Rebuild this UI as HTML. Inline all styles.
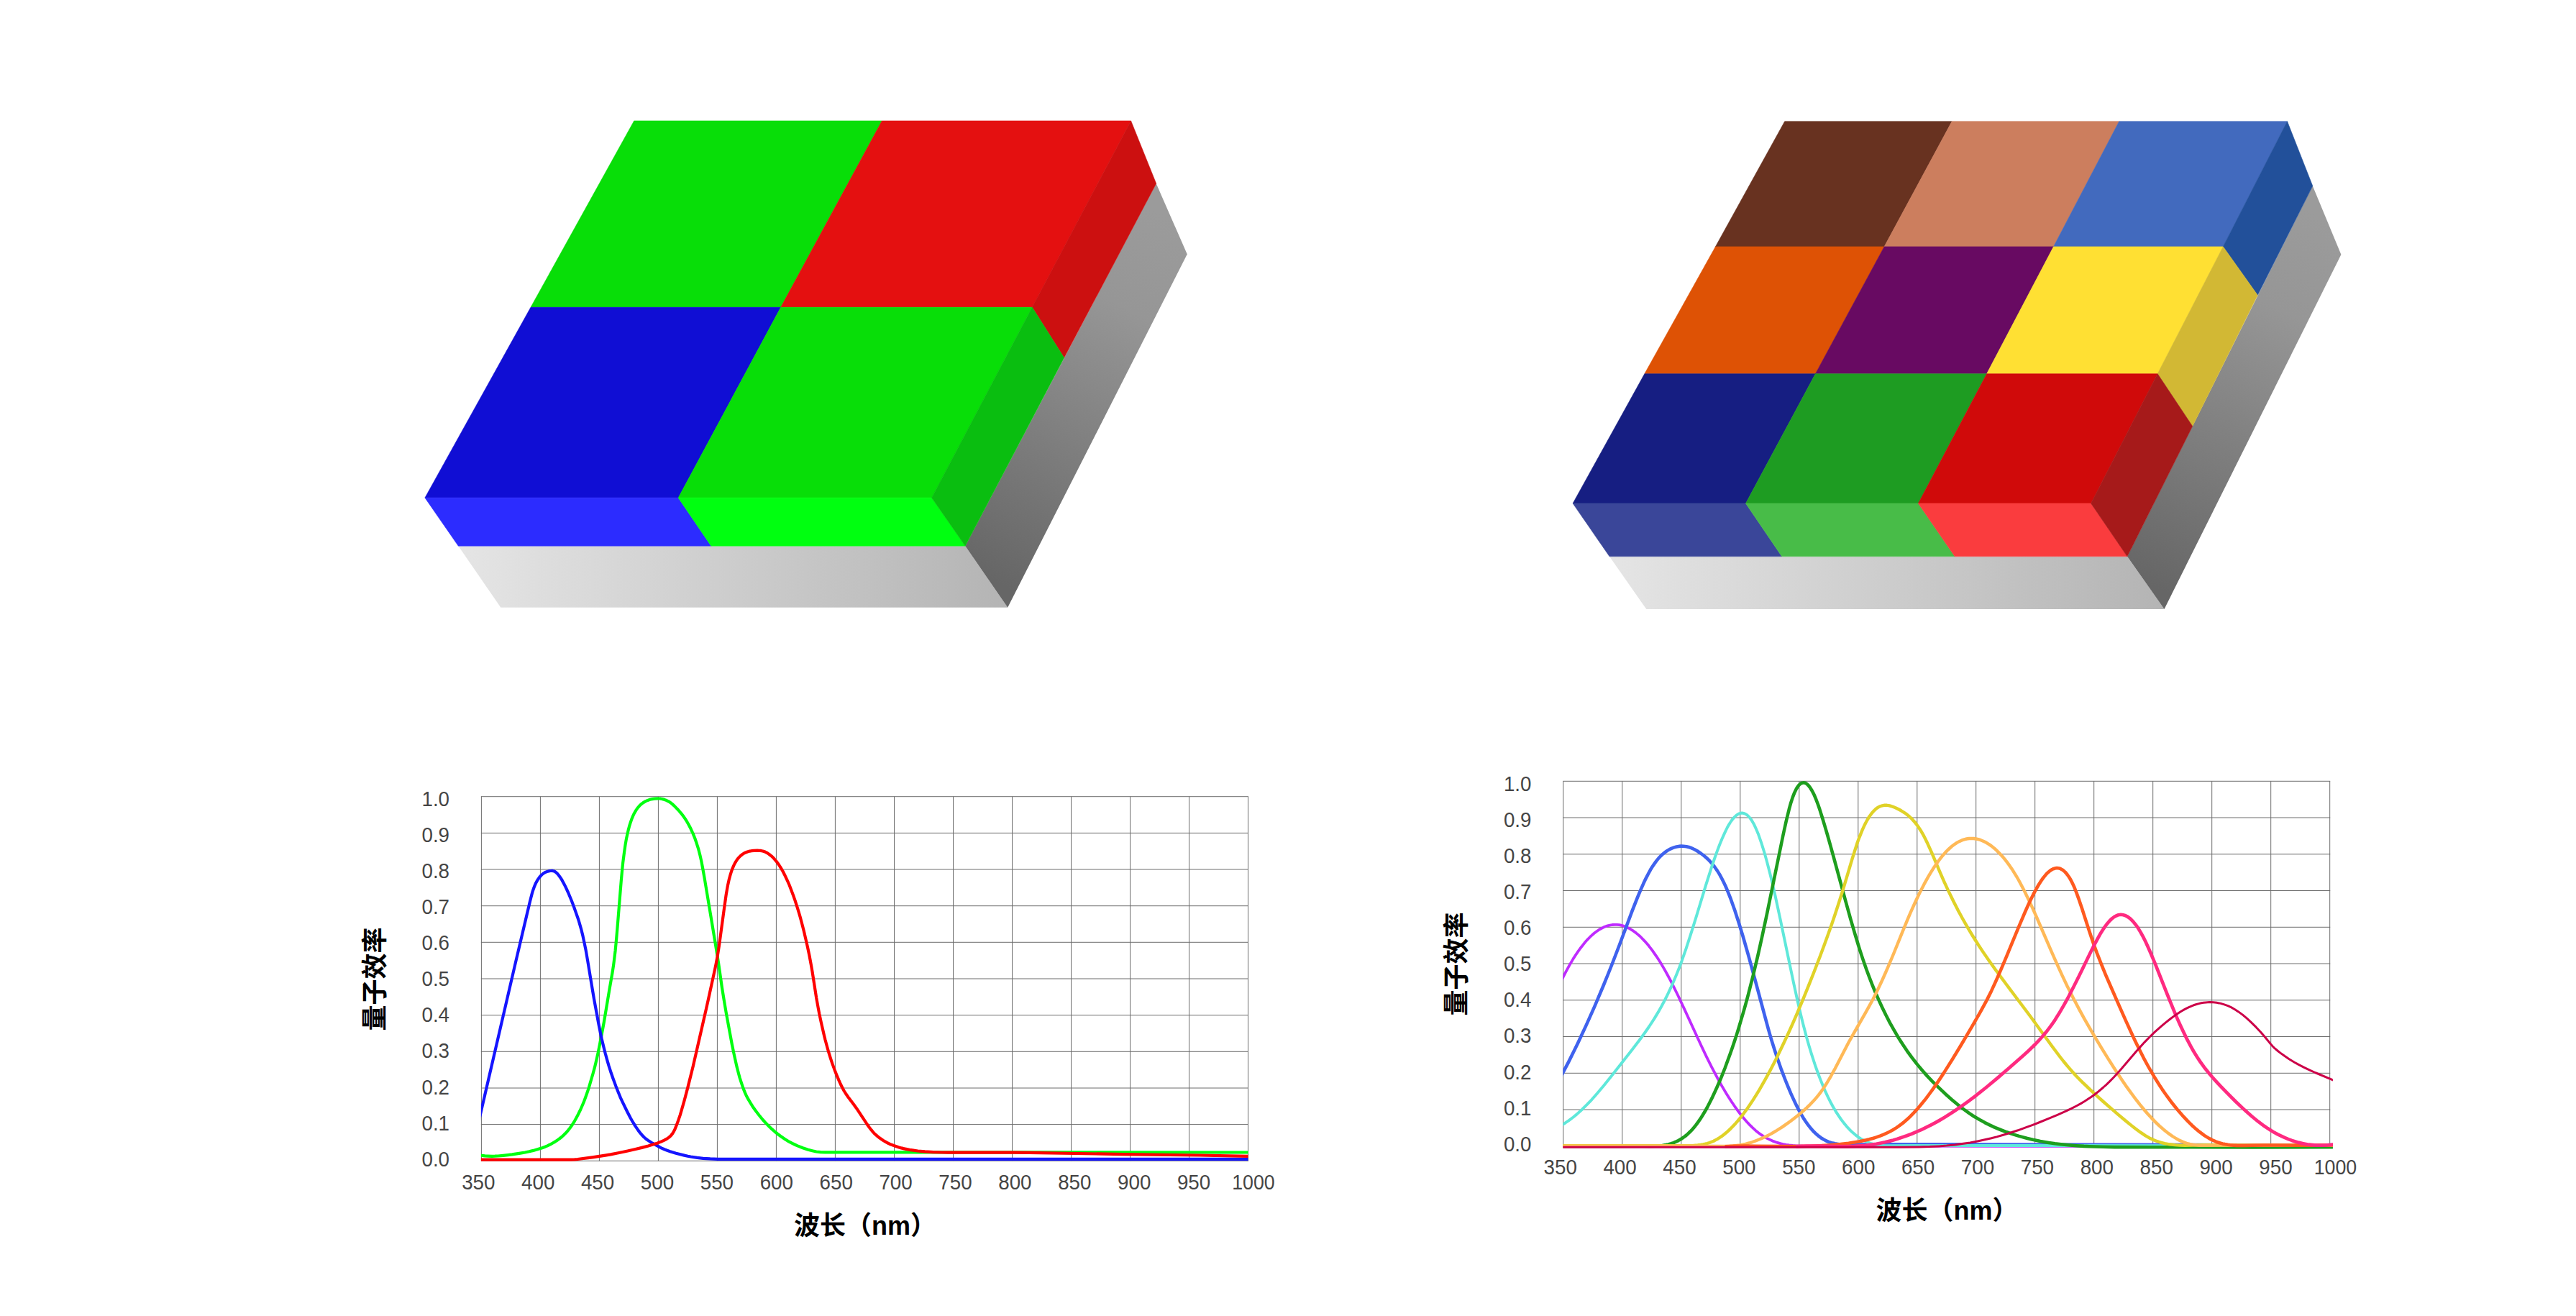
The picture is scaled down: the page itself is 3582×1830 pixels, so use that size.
<!DOCTYPE html>
<html lang="zh-CN">
<head>
<meta charset="utf-8">
<title>量子效率</title>
<style>
html,body{margin:0;padding:0;background:#fff;}
body{width:3582px;height:1830px;overflow:hidden;}
svg{display:block;}
.tick{font-family:"Liberation Sans",sans-serif;font-size:29px;fill:#454545;}
.ttl{font-family:"Liberation Sans","Noto Sans CJK SC",sans-serif;font-weight:bold;font-size:36px;fill:#000;}
.grid line{stroke:#6C6C6C;stroke-width:1;}
.crv path{fill:none;stroke-linejoin:round;stroke-linecap:butt;}
</style>
</head>
<body>
<svg xmlns="http://www.w3.org/2000/svg" width="3582" height="1830" viewBox="0 0 3582 1830">
<defs>
<linearGradient id="gf" x1="0" y1="0" x2="1" y2="0"><stop offset="0" stop-color="#E5E5E5"/><stop offset="1" stop-color="#B4B4B4"/></linearGradient>
<linearGradient id="gs1" gradientUnits="userSpaceOnUse" x1="1629" y1="304" x2="1372" y2="802"><stop offset="0" stop-color="#9B9B9B"/><stop offset="0.25" stop-color="#969696"/><stop offset="1" stop-color="#666666"/></linearGradient>
<linearGradient id="gs2" gradientUnits="userSpaceOnUse" x1="3235" y1="306" x2="2984" y2="810"><stop offset="0" stop-color="#9B9B9B"/><stop offset="0.25" stop-color="#969696"/><stop offset="1" stop-color="#666666"/></linearGradient>
</defs>
<g id="block1">
<polygon points="637.3,759.2 1342.2,759.2 1401.2,844.8 696.3,844.8" fill="url(#gf)"/>
<polygon points="1342.2,759.2 1607.7,255.2 1650.8,353.6 1401.2,844.8" fill="url(#gs1)"/>
<polygon points="881.7,168 1226.4,168 1085.7,427.3 738,427.3" fill="#08DE08" stroke="#08DE08" stroke-width="0.6"/>
<polygon points="1226.4,168 1572.6,168 1435.3,427.3 1085.7,427.3" fill="#E41010" stroke="#E41010" stroke-width="0.6"/>
<polygon points="738,427.3 1085.7,427.3 943.2,692.2 590.9,692.2" fill="#100ED4" stroke="#100ED4" stroke-width="0.6"/>
<polygon points="1085.7,427.3 1435.3,427.3 1295.6,692.2 943.2,692.2" fill="#08DE08" stroke="#08DE08" stroke-width="0.6"/>
<polygon points="590.9,692.2 943.2,692.2 988.8,759.2 637.3,759.2" fill="#2C2CFF" stroke="#2C2CFF" stroke-width="0.6"/>
<polygon points="943.2,692.2 1295.6,692.2 1342.2,759.2 988.8,759.2" fill="#00FF10" stroke="#00FF10" stroke-width="0.6"/>
<polygon points="1572.6,168 1607.7,255.2 1479.7,497.5 1435.3,427.3" fill="#CC1010" stroke="#CC1010" stroke-width="0.6"/>
<polygon points="1435.3,427.3 1479.7,497.5 1342.2,759.2 1295.6,692.2" fill="#0ABE10" stroke="#0ABE10" stroke-width="0.6"/>
</g>
<g id="block2">
<polygon points="2238,773.8 2958,773.8 3009.5,847 2289.3,847" fill="url(#gf)"/>
<polygon points="2958,773.8 3215.8,258.6 3255.4,354.1 3009.5,847" fill="url(#gs2)"/>
<polygon points="2481.7,168.8 2714.2,168.8 2620.1,343 2385.4,343" fill="#683220" stroke="#683220" stroke-width="0.6"/>
<polygon points="2714.2,168.8 2946.7,168.8 2855.5,343 2620.1,343" fill="#CC7E5E" stroke="#CC7E5E" stroke-width="0.6"/>
<polygon points="2946.7,168.8 3180.5,168.8 3091.3,343 2855.5,343" fill="#426ABE" stroke="#426ABE" stroke-width="0.6"/>
<polygon points="2385.4,343 2620.1,343 2524.4,519.8 2286.8,519.8" fill="#DE5205" stroke="#DE5205" stroke-width="0.6"/>
<polygon points="2620.1,343 2855.5,343 2762.6,519.8 2524.4,519.8" fill="#680A62" stroke="#680A62" stroke-width="0.6"/>
<polygon points="2855.5,343 3091.3,343 3000.2,519.8 2762.6,519.8" fill="#FFE033" stroke="#FFE033" stroke-width="0.6"/>
<polygon points="2286.8,519.8 2524.4,519.8 2427.5,700 2187.1,700" fill="#161E82" stroke="#161E82" stroke-width="0.6"/>
<polygon points="2524.4,519.8 2762.6,519.8 2667.4,700 2427.5,700" fill="#1E9C22" stroke="#1E9C22" stroke-width="0.6"/>
<polygon points="2762.6,519.8 3000.2,519.8 2907.6,700 2667.4,700" fill="#D00A0A" stroke="#D00A0A" stroke-width="0.6"/>
<polygon points="2187.1,700 2427.5,700 2477.7,773.8 2238,773.8" fill="#3A4699" stroke="#3A4699" stroke-width="0.6"/>
<polygon points="2427.5,700 2667.4,700 2718.2,773.8 2477.7,773.8" fill="#48BC48" stroke="#48BC48" stroke-width="0.6"/>
<polygon points="2667.4,700 2907.6,700 2958,773.8 2718.2,773.8" fill="#FA3C3E" stroke="#FA3C3E" stroke-width="0.6"/>
<polygon points="3180.5,168.8 3215.8,258.6 3139.3,410.4 3091.3,343" fill="#22509A" stroke="#22509A" stroke-width="0.6"/>
<polygon points="3091.3,343 3139.3,410.4 3048.7,592.7 3000.2,519.8" fill="#D2B834" stroke="#D2B834" stroke-width="0.6"/>
<polygon points="3000.2,519.8 3048.7,592.7 2958,773.8 2907.6,700" fill="#A61A1A" stroke="#A61A1A" stroke-width="0.6"/>
</g>
<g id="chart1">
<g class="grid">
<line x1="669.4" y1="1107.7" x2="669.4" y2="1614.3"/><line x1="751.4" y1="1107.7" x2="751.4" y2="1614.3"/><line x1="833.4" y1="1107.7" x2="833.4" y2="1614.3"/><line x1="915.4" y1="1107.7" x2="915.4" y2="1614.3"/><line x1="997.4" y1="1107.7" x2="997.4" y2="1614.3"/><line x1="1079.4" y1="1107.7" x2="1079.4" y2="1614.3"/><line x1="1161.4" y1="1107.7" x2="1161.4" y2="1614.3"/><line x1="1243.5" y1="1107.7" x2="1243.5" y2="1614.3"/><line x1="1325.5" y1="1107.7" x2="1325.5" y2="1614.3"/><line x1="1407.5" y1="1107.7" x2="1407.5" y2="1614.3"/><line x1="1489.5" y1="1107.7" x2="1489.5" y2="1614.3"/><line x1="1571.5" y1="1107.7" x2="1571.5" y2="1614.3"/><line x1="1653.5" y1="1107.7" x2="1653.5" y2="1614.3"/><line x1="1735.5" y1="1107.7" x2="1735.5" y2="1614.3"/>
<line x1="668.9" y1="1107.7" x2="1736" y2="1107.7"/><line x1="668.9" y1="1158.4" x2="1736" y2="1158.4"/><line x1="668.9" y1="1209" x2="1736" y2="1209"/><line x1="668.9" y1="1259.7" x2="1736" y2="1259.7"/><line x1="668.9" y1="1310.3" x2="1736" y2="1310.3"/><line x1="668.9" y1="1361" x2="1736" y2="1361"/><line x1="668.9" y1="1411.7" x2="1736" y2="1411.7"/><line x1="668.9" y1="1462.3" x2="1736" y2="1462.3"/><line x1="668.9" y1="1513" x2="1736" y2="1513"/><line x1="668.9" y1="1563.6" x2="1736" y2="1563.6"/><line x1="668.9" y1="1614.3" x2="1736" y2="1614.3"/>
</g>
<clipPath id="clip1"><rect x="668.9" y="1087.7" width="1066.6" height="546.6"/></clipPath>
<g class="crv" clip-path="url(#clip1)">
<path d="M662.8,1605.9L674.3,1607.4L678.4,1607.6L684.2,1607.8L688.3,1607.7L692.4,1607.5L699.7,1606.8L706.3,1606.1L712.0,1605.4L723.5,1603.6L730.1,1602.5L735.8,1601.3L741.6,1599.9L748.1,1598.0L753.9,1596.2L758.0,1594.7L761.2,1593.3L765.3,1591.3L768.6,1589.5L771.9,1587.6L775.2,1585.4L778.5,1583.0L781.8,1580.3L784.2,1578.1L786.7,1575.6L790.0,1571.8L792.4,1568.7L794.9,1565.3L797.3,1561.6L799.0,1558.8L801.4,1554.4L803.9,1549.7L807.2,1543.0L809.6,1537.5L812.1,1531.6L813.7,1527.3L816.2,1520.3L818.7,1512.8L821.1,1504.7L824.4,1493.5L826.9,1484.4L828.5,1477.8L831.8,1463.2L835.9,1442.7L840.0,1420.5L847.4,1376.2L851.5,1352.7L853.1,1342.2L853.9,1336.1L855.6,1321.9L857.2,1305.0L858.8,1286.1L863.8,1224.7L865.4,1207.2L866.2,1199.5L867.9,1186.2L869.5,1175.0L871.1,1165.7L872.0,1161.7L873.6,1154.6L875.2,1148.5L876.9,1143.2L878.5,1138.6L880.2,1134.6L881.8,1131.2L884.3,1126.9L886.7,1123.4L889.2,1120.6L891.6,1118.2L894.1,1116.4L897.4,1114.4L900.7,1112.9L903.9,1111.8L907.2,1111.1L910.5,1110.7L914.6,1110.4L917.1,1110.5L918.7,1110.7L920.3,1111.0L922.8,1111.6L925.3,1112.4L926.9,1113.1L929.4,1114.3L931.0,1115.2L932.6,1116.3L934.3,1117.6L937.6,1120.6L943.3,1126.5L947.4,1131.3L950.7,1135.6L954.0,1140.5L957.2,1146.0L960.5,1152.3L963.8,1159.6L966.3,1165.8L968.7,1172.8L971.2,1180.7L973.6,1190.1L975.3,1197.6L976.9,1206.0L979.4,1219.8L996.6,1323.3L999.1,1339.4L1004.0,1373.6L1006.5,1389.2L1009.7,1408.1L1015.5,1439.6L1017.9,1452.5L1020.4,1464.6L1022.9,1476.0L1024.5,1483.1L1027.0,1492.7L1028.6,1498.6L1031.1,1506.4L1033.5,1513.4L1036.0,1519.6L1037.6,1523.2L1040.1,1527.9L1043.4,1533.5L1046.6,1538.7L1050.7,1544.5L1055.7,1551.0L1060.6,1557.0L1063.9,1560.7L1068.0,1564.9L1073.7,1570.4L1077.8,1574.0L1081.1,1576.7L1085.2,1579.7L1091.7,1584.2L1095.8,1586.8L1101.6,1589.9L1104.9,1591.5L1109.0,1593.4L1116.3,1596.3L1123.7,1598.8L1129.5,1600.3L1135.2,1601.5L1140.9,1602.1L1147.5,1602.4L1742.1,1602.5" stroke="#00FF10" stroke-width="4.2"/>
<path d="M662.8,1571.9L716.1,1341.9L736.6,1254.9L738.3,1248.2L739.9,1242.1L740.7,1239.4L742.4,1234.5L743.2,1232.4L744.8,1228.6L746.5,1225.4L748.1,1222.7L749.8,1220.4L751.4,1218.4L753.0,1216.8L754.7,1215.3L757.1,1213.6L758.8,1212.7L760.4,1212.1L762.9,1211.4L765.3,1211.0L767.8,1210.9L769.4,1211.2L770.3,1211.4L771.9,1212.2L773.5,1213.4L775.2,1215.1L776.8,1217.0L779.3,1220.4L781.8,1224.4L784.2,1228.9L786.7,1233.9L790.0,1241.0L792.4,1246.8L794.9,1252.8L798.2,1261.5L801.4,1270.6L803.9,1277.7L805.5,1282.9L808.0,1291.6L810.5,1301.6L812.9,1312.9L814.6,1321.2L817.0,1335.0L822.8,1370.1L826.0,1389.2L832.6,1424.9L835.1,1437.2L836.7,1444.7L839.2,1454.9L841.6,1464.5L844.1,1473.6L846.5,1481.9L849.0,1489.7L852.3,1499.2L856.4,1510.4L859.7,1518.8L862.9,1526.6L866.2,1533.7L872.0,1545.5L876.9,1555.0L880.2,1560.7L883.4,1565.9L887.5,1571.9L890.8,1576.2L893.3,1579.0L895.7,1581.5L899.0,1584.3L902.3,1586.6L907.2,1589.7L914.6,1593.7L919.5,1596.3L924.4,1598.5L927.7,1599.8L931.8,1601.2L940.0,1603.7L951.5,1606.6L956.4,1607.7L960.5,1608.5L969.5,1609.9L977.7,1610.8L987.6,1611.4L998.3,1611.8L1017.1,1611.9L1742.1,1611.9" stroke="#1515FF" stroke-width="4.2"/>
<path d="M662.8,1612.6L794.1,1612.6L799.0,1612.4L803.1,1612.0L823.6,1609.3L841.6,1606.6L849.0,1605.4L859.7,1603.3L872.8,1600.5L882.6,1598.3L892.5,1595.9L901.5,1593.5L909.7,1591.1L914.6,1589.4L918.7,1587.8L923.6,1585.6L927.7,1583.3L929.4,1582.2L931.0,1580.9L933.5,1578.4L935.1,1576.4L936.7,1573.7L938.4,1570.5L940.8,1564.5L943.3,1557.7L945.8,1550.3L948.2,1542.2L951.5,1530.7L956.4,1512.1L963.8,1482.6L981.8,1403.7L985.1,1389.0L994.2,1347.4L995.8,1339.7L997.4,1331.1L999.9,1315.5L1007.3,1261.1L1009.7,1244.1L1011.4,1234.4L1012.2,1230.2L1013.8,1222.9L1015.5,1216.7L1017.1,1211.6L1018.8,1207.1L1020.4,1203.4L1022.0,1200.1L1023.7,1197.3L1025.3,1194.9L1027.0,1192.9L1029.4,1190.4L1031.9,1188.3L1034.3,1186.7L1036.8,1185.5L1039.3,1184.5L1042.5,1183.6L1045.0,1183.2L1048.3,1182.9L1053.2,1182.7L1055.7,1182.8L1057.3,1182.9L1060.6,1183.5L1062.2,1184.0L1063.9,1184.6L1066.3,1185.8L1069.6,1188.0L1072.9,1190.6L1076.2,1193.8L1079.4,1197.6L1082.7,1202.1L1085.2,1205.9L1088.5,1211.5L1091.7,1217.8L1095.0,1224.8L1097.5,1230.5L1099.9,1236.7L1103.2,1245.5L1105.7,1252.6L1108.1,1260.1L1110.6,1268.1L1113.1,1276.7L1115.5,1285.8L1118.0,1295.5L1120.4,1305.9L1122.9,1316.8L1125.4,1328.5L1127.8,1341.4L1129.5,1351.1L1135.2,1387.6L1137.7,1401.5L1139.3,1409.9L1141.8,1421.6L1145.9,1439.5L1147.5,1446.0L1150.0,1455.2L1152.4,1463.7L1154.9,1471.6L1157.3,1478.9L1160.6,1487.9L1163.1,1494.2L1166.4,1502.1L1168.8,1507.5L1171.3,1512.5L1173.7,1517.0L1176.2,1521.0L1179.5,1525.7L1186.9,1535.5L1191.0,1541.2L1204.9,1562.2L1209.0,1568.0L1211.5,1571.2L1213.9,1574.1L1215.6,1575.9L1218.0,1578.2L1220.5,1580.4L1223.0,1582.3L1225.4,1584.0L1228.7,1586.2L1232.0,1588.1L1234.4,1589.5L1236.9,1590.7L1240.2,1592.1L1244.3,1593.5L1250.0,1595.4L1253.3,1596.4L1257.4,1597.4L1262.3,1598.4L1266.4,1599.2L1276.3,1600.5L1286.1,1601.4L1297.6,1602.1L1309.9,1602.5L1318.1,1602.7L1409.9,1602.7L1431.3,1602.9L1561.6,1605.1L1669.1,1606.5L1742.1,1608.0" stroke="#FF0000" stroke-width="4.2"/>
</g>
<g class="tick">
<text x="586.5" y="1120.7" textLength="38.5" lengthAdjust="spacingAndGlyphs">1.0</text><text x="586.5" y="1170.8" textLength="38.5" lengthAdjust="spacingAndGlyphs">0.9</text><text x="586.5" y="1220.9" textLength="38.5" lengthAdjust="spacingAndGlyphs">0.8</text><text x="586.5" y="1271" textLength="38.5" lengthAdjust="spacingAndGlyphs">0.7</text><text x="586.5" y="1321.1" textLength="38.5" lengthAdjust="spacingAndGlyphs">0.6</text><text x="586.5" y="1371.2" textLength="38.5" lengthAdjust="spacingAndGlyphs">0.5</text><text x="586.5" y="1421.3" textLength="38.5" lengthAdjust="spacingAndGlyphs">0.4</text><text x="586.5" y="1471.4" textLength="38.5" lengthAdjust="spacingAndGlyphs">0.3</text><text x="586.5" y="1521.5" textLength="38.5" lengthAdjust="spacingAndGlyphs">0.2</text><text x="586.5" y="1571.6" textLength="38.5" lengthAdjust="spacingAndGlyphs">0.1</text><text x="586.5" y="1621.7" textLength="38.5" lengthAdjust="spacingAndGlyphs">0.0</text>
<text x="665.3" y="1653.8" text-anchor="middle" textLength="46.3" lengthAdjust="spacingAndGlyphs">350</text><text x="748.2" y="1653.8" text-anchor="middle" textLength="46.3" lengthAdjust="spacingAndGlyphs">400</text><text x="831.1" y="1653.8" text-anchor="middle" textLength="46.3" lengthAdjust="spacingAndGlyphs">450</text><text x="914" y="1653.8" text-anchor="middle" textLength="46.3" lengthAdjust="spacingAndGlyphs">500</text><text x="996.9" y="1653.8" text-anchor="middle" textLength="46.3" lengthAdjust="spacingAndGlyphs">550</text><text x="1079.8" y="1653.8" text-anchor="middle" textLength="46.3" lengthAdjust="spacingAndGlyphs">600</text><text x="1162.7" y="1653.8" text-anchor="middle" textLength="46.3" lengthAdjust="spacingAndGlyphs">650</text><text x="1245.6" y="1653.8" text-anchor="middle" textLength="46.3" lengthAdjust="spacingAndGlyphs">700</text><text x="1328.5" y="1653.8" text-anchor="middle" textLength="46.3" lengthAdjust="spacingAndGlyphs">750</text><text x="1411.4" y="1653.8" text-anchor="middle" textLength="46.3" lengthAdjust="spacingAndGlyphs">800</text><text x="1494.3" y="1653.8" text-anchor="middle" textLength="46.3" lengthAdjust="spacingAndGlyphs">850</text><text x="1577.2" y="1653.8" text-anchor="middle" textLength="46.3" lengthAdjust="spacingAndGlyphs">900</text><text x="1660.1" y="1653.8" text-anchor="middle" textLength="46.3" lengthAdjust="spacingAndGlyphs">950</text><text x="1743" y="1653.8" text-anchor="middle" textLength="59.5" lengthAdjust="spacingAndGlyphs">1000</text>
</g>
<text class="ttl" x="1104" y="1717">波长（nm）</text>
<text class="ttl" text-anchor="middle" transform="translate(534,1361.6) rotate(-90)">量子效率</text>
</g>
<g id="chart2">
<g class="grid">
<line x1="2173.8" y1="1086.3" x2="2173.8" y2="1593.8"/><line x1="2255.8" y1="1086.3" x2="2255.8" y2="1593.8"/><line x1="2337.8" y1="1086.3" x2="2337.8" y2="1593.8"/><line x1="2419.8" y1="1086.3" x2="2419.8" y2="1593.8"/><line x1="2501.8" y1="1086.3" x2="2501.8" y2="1593.8"/><line x1="2583.8" y1="1086.3" x2="2583.8" y2="1593.8"/><line x1="2665.8" y1="1086.3" x2="2665.8" y2="1593.8"/><line x1="2747.7" y1="1086.3" x2="2747.7" y2="1593.8"/><line x1="2829.7" y1="1086.3" x2="2829.7" y2="1593.8"/><line x1="2911.7" y1="1086.3" x2="2911.7" y2="1593.8"/><line x1="2993.7" y1="1086.3" x2="2993.7" y2="1593.8"/><line x1="3075.7" y1="1086.3" x2="3075.7" y2="1593.8"/><line x1="3157.7" y1="1086.3" x2="3157.7" y2="1593.8"/><line x1="3239.7" y1="1086.3" x2="3239.7" y2="1593.8"/>
<line x1="2173.3" y1="1086.3" x2="3240.2" y2="1086.3"/><line x1="2173.3" y1="1137" x2="3240.2" y2="1137"/><line x1="2173.3" y1="1187.8" x2="3240.2" y2="1187.8"/><line x1="2173.3" y1="1238.5" x2="3240.2" y2="1238.5"/><line x1="2173.3" y1="1289.3" x2="3240.2" y2="1289.3"/><line x1="2173.3" y1="1340" x2="3240.2" y2="1340"/><line x1="2173.3" y1="1390.8" x2="3240.2" y2="1390.8"/><line x1="2173.3" y1="1441.5" x2="3240.2" y2="1441.5"/><line x1="2173.3" y1="1492.3" x2="3240.2" y2="1492.3"/><line x1="2173.3" y1="1543" x2="3240.2" y2="1543"/><line x1="2173.3" y1="1593.8" x2="3240.2" y2="1593.8"/>
</g>
<clipPath id="clip2"><rect x="2173.3" y="1066.3" width="1070.6" height="547.5"/></clipPath>
<g class="crv" clip-path="url(#clip2)">
<path d="M2167.2,1371.2L2177.1,1351.9L2182.0,1342.9L2187.7,1333.1L2191.0,1328.0L2194.3,1323.1L2197.6,1318.5L2200.9,1314.3L2204.1,1310.3L2207.4,1306.6L2210.7,1303.2L2213.2,1300.9L2216.4,1298.0L2219.7,1295.5L2223.0,1293.2L2226.3,1291.3L2229.6,1289.6L2232.0,1288.5L2235.3,1287.4L2238.6,1286.6L2241.9,1286.0L2245.1,1285.8L2248.4,1285.9L2251.7,1286.2L2255.0,1286.9L2258.3,1287.9L2261.5,1289.2L2264.8,1290.7L2268.1,1292.6L2271.4,1294.7L2274.7,1297.1L2277.1,1299.1L2279.6,1301.2L2282.0,1303.5L2286.9,1308.6L2290.2,1312.3L2292.7,1315.3L2297.6,1321.6L2303.3,1329.8L2308.3,1337.5L2314.0,1347.1L2318.1,1354.5L2323.0,1363.7L2327.9,1373.4L2332.9,1383.5L2341.9,1402.6L2365.7,1454.2L2373.0,1469.6L2380.4,1484.4L2388.6,1499.9L2392.7,1507.3L2396.8,1514.4L2400.9,1521.2L2404.2,1526.5L2408.3,1532.8L2412.4,1538.8L2417.3,1545.6L2421.4,1551.0L2424.7,1555.0L2428.8,1559.7L2432.9,1564.1L2437.0,1568.2L2441.1,1571.9L2445.2,1575.2L2449.3,1578.2L2453.4,1580.8L2457.5,1583.1L2461.6,1585.1L2465.7,1586.9L2470.6,1588.7L2475.5,1590.1L2479.6,1591.0L2483.7,1591.8L2487.8,1592.4L2492.8,1593.0L2497.7,1593.3L2506.7,1593.7L2529.6,1593.9L2619.8,1593.7L3246.3,1593.8" stroke="#BF2BFF" stroke-width="3.8"/>
<path d="M2167.2,1503.4L2181.2,1476.6L2187.7,1463.5L2193.5,1451.7L2199.2,1439.6L2205.8,1425.4L2217.3,1399.6L2223.0,1386.2L2229.6,1370.5L2235.3,1356.5L2241.9,1340.0L2251.7,1314.5L2269.7,1266.4L2277.1,1247.7L2281.2,1237.9L2285.3,1228.6L2288.6,1221.6L2291.9,1215.2L2295.1,1209.3L2297.6,1205.3L2300.1,1201.6L2303.3,1197.1L2306.6,1193.1L2309.1,1190.5L2312.4,1187.4L2314.8,1185.4L2318.1,1183.1L2321.4,1181.1L2324.7,1179.6L2327.9,1178.4L2331.2,1177.5L2334.5,1176.9L2337.8,1176.6L2341.1,1176.7L2345.2,1177.2L2348.4,1178.0L2351.7,1179.2L2355.8,1181.0L2359.9,1183.3L2364.8,1186.5L2368.9,1189.5L2373.0,1193.0L2376.3,1196.1L2379.6,1199.7L2382.9,1203.7L2385.3,1207.0L2387.8,1210.6L2391.1,1215.9L2393.5,1220.3L2396.8,1226.8L2399.3,1232.0L2401.7,1237.7L2404.2,1243.8L2406.7,1250.2L2409.9,1259.2L2412.4,1266.3L2418.1,1284.0L2423.9,1303.0L2431.3,1328.8L2439.5,1358.8L2455.9,1419.8L2459.1,1431.6L2463.2,1445.8L2468.2,1461.8L2472.3,1474.1L2477.2,1487.9L2482.9,1502.8L2486.2,1510.9L2490.3,1520.6L2493.6,1527.9L2496.8,1534.8L2500.9,1542.9L2504.2,1548.9L2507.5,1554.4L2510.8,1559.5L2514.1,1564.1L2518.2,1569.3L2521.4,1573.0L2524.7,1576.2L2528.0,1579.1L2532.1,1582.2L2535.4,1584.3L2539.5,1586.5L2542.8,1587.8L2546.0,1588.9L2548.5,1589.6L2551.8,1590.3L2555.1,1590.8L2558.3,1591.2L2562.4,1591.5L2566.5,1591.6L2636.2,1591.3L2683.0,1591.3L3092.9,1592.2L3234.0,1592.3L3246.3,1592.1" stroke="#3F62EE" stroke-width="4.6"/>
<path d="M2167.2,1567.1L2176.3,1561.7L2181.2,1558.4L2187.7,1553.5L2192.7,1549.4L2200.0,1542.7L2206.6,1536.2L2213.2,1529.3L2220.5,1521.0L2230.4,1509.3L2240.2,1497.1L2268.9,1460.4L2279.6,1446.5L2286.9,1436.5L2293.5,1427.0L2300.1,1416.9L2305.8,1407.4L2310.7,1398.7L2314.8,1391.0L2318.9,1382.8L2323.0,1374.2L2327.1,1365.0L2331.2,1355.2L2335.3,1344.9L2338.6,1336.2L2344.3,1319.8L2350.9,1299.7L2357.5,1278.7L2372.2,1230.3L2379.6,1207.2L2383.7,1195.0L2387.0,1185.7L2391.1,1174.8L2394.4,1166.7L2398.5,1157.6L2401.7,1151.0L2404.2,1146.6L2405.8,1144.0L2407.5,1141.5L2409.1,1139.3L2410.8,1137.4L2412.4,1135.6L2414.0,1134.1L2415.7,1132.9L2417.3,1131.9L2419.0,1131.2L2420.6,1130.8L2422.2,1130.6L2423.9,1130.8L2424.7,1130.9L2426.3,1131.5L2428.0,1132.4L2428.8,1132.9L2430.4,1134.3L2432.9,1136.9L2434.5,1139.0L2436.2,1141.4L2437.8,1144.2L2439.5,1147.3L2441.1,1150.8L2442.7,1154.5L2445.2,1160.6L2446.8,1165.1L2449.3,1172.3L2453.4,1185.5L2456.7,1197.2L2460.8,1212.9L2464.1,1226.4L2468.2,1244.2L2475.5,1278.2L2489.5,1345.2L2494.4,1368.3L2499.3,1390.7L2504.2,1411.8L2507.5,1424.9L2510.0,1434.4L2512.4,1443.4L2515.7,1455.0L2519.0,1465.8L2522.3,1476.0L2524.7,1483.3L2528.0,1492.5L2531.3,1501.1L2534.6,1509.3L2537.8,1516.8L2541.9,1525.6L2545.2,1532.2L2549.3,1539.7L2552.6,1545.3L2556.7,1551.7L2560.0,1556.5L2564.1,1561.9L2568.2,1566.8L2572.3,1571.2L2576.4,1575.1L2580.5,1578.6L2584.6,1581.6L2587.0,1583.2L2589.5,1584.7L2592.8,1586.4L2596.9,1588.3L2601.0,1589.8L2605.1,1591.0L2609.2,1591.9L2614.1,1592.7L2619.0,1593.1L2624.8,1593.3L2660.8,1593.1L3246.3,1593.2" stroke="#5FE8DA" stroke-width="4.0"/>
<path d="M2167.2,1593.9L2241.9,1593.9L2277.9,1593.7L2295.1,1593.9L2301.7,1593.8L2307.4,1593.4L2311.5,1593.0L2316.5,1592.1L2319.7,1591.4L2323.8,1590.2L2327.1,1589.1L2330.4,1587.7L2333.7,1586.1L2336.1,1584.8L2339.4,1582.7L2342.7,1580.4L2345.2,1578.4L2347.6,1576.2L2350.9,1573.0L2353.4,1570.4L2355.8,1567.5L2358.3,1564.4L2360.7,1561.1L2364.0,1556.4L2367.3,1551.3L2370.6,1545.8L2373.9,1540.0L2377.1,1533.8L2381.2,1525.6L2384.5,1518.6L2387.8,1511.3L2391.1,1503.8L2394.4,1495.8L2398.5,1485.5L2401.7,1476.8L2405.0,1467.8L2408.3,1458.5L2411.6,1448.7L2414.9,1438.6L2418.1,1428.1L2424.7,1405.8L2428.0,1394.1L2431.3,1381.9L2437.8,1356.2L2444.4,1328.6L2450.1,1302.9L2456.7,1272.3L2479.6,1160.6L2483.7,1142.0L2487.8,1125.2L2490.3,1116.2L2492.8,1108.6L2495.2,1102.4L2497.7,1097.3L2498.5,1095.9L2500.1,1093.5L2500.9,1092.4L2502.6,1090.7L2504.2,1089.4L2505.0,1089.0L2505.9,1088.7L2507.5,1088.4L2509.1,1088.5L2510.0,1088.7L2510.8,1089.1L2512.4,1090.1L2513.2,1090.8L2514.9,1092.5L2517.3,1095.7L2519.8,1099.8L2521.4,1102.9L2523.1,1106.3L2525.5,1112.2L2528.0,1118.8L2530.5,1126.1L2533.7,1136.3L2537.0,1147.1L2541.1,1161.0L2549.3,1190.3L2565.7,1250.7L2573.1,1277.3L2580.5,1302.7L2586.2,1321.2L2590.3,1333.6L2595.2,1347.7L2599.3,1358.7L2603.4,1369.3L2607.5,1379.3L2612.5,1390.6L2617.4,1401.2L2622.3,1411.3L2628.0,1422.4L2633.8,1432.7L2639.5,1442.4L2646.1,1452.8L2651.8,1461.3L2658.4,1470.4L2664.9,1478.9L2671.5,1486.8L2675.6,1491.5L2679.7,1496.1L2687.1,1503.8L2695.3,1511.9L2705.1,1521.2L2714.1,1529.2L2722.3,1536.1L2730.5,1542.5L2738.7,1548.4L2745.3,1552.7L2752.7,1557.1L2760.0,1561.1L2766.6,1564.4L2774.0,1567.8L2783.0,1571.5L2790.4,1574.3L2800.2,1577.6L2807.6,1579.9L2819.1,1583.0L2826.5,1584.8L2837.1,1587.0L2848.6,1589.0L2857.6,1590.3L2865.8,1591.3L2875.7,1592.3L2887.1,1593.2L2897.8,1593.9L2905.2,1594.2L2924.0,1594.8L2940.4,1595.1L2991.3,1595.2L3132.3,1595.4L3246.3,1595.3" stroke="#1E9E1E" stroke-width="4.6"/>
<path d="M2167.2,1593.3L2341.1,1593.3L2347.6,1593.2L2353.4,1593.1L2357.5,1592.8L2360.7,1592.5L2364.8,1592.0L2368.1,1591.4L2371.4,1590.7L2373.9,1590.0L2377.1,1589.0L2380.4,1587.7L2382.9,1586.7L2385.3,1585.4L2387.8,1584.1L2391.1,1582.0L2393.5,1580.4L2396.8,1577.9L2400.1,1575.3L2403.4,1572.4L2405.8,1570.1L2409.1,1566.8L2413.2,1562.4L2416.5,1558.6L2420.6,1553.6L2424.7,1548.3L2428.8,1542.7L2432.9,1536.8L2437.8,1529.4L2441.9,1522.9L2446.8,1514.8L2450.9,1507.7L2454.2,1501.9L2460.0,1491.4L2464.1,1483.6L2469.8,1472.4L2478.8,1453.8L2486.2,1438.0L2492.8,1423.4L2499.3,1408.3L2507.5,1388.8L2514.9,1370.6L2522.3,1352.0L2530.5,1330.7L2537.0,1313.2L2541.9,1299.7L2546.9,1285.7L2551.8,1271.3L2556.7,1256.3L2563.3,1235.3L2575.6,1194.1L2580.5,1178.6L2582.9,1171.3L2585.4,1164.6L2589.5,1154.4L2592.8,1147.2L2594.4,1144.0L2596.9,1139.5L2599.3,1135.5L2601.0,1133.2L2602.6,1131.0L2605.1,1128.1L2607.5,1125.7L2609.2,1124.3L2611.6,1122.6L2613.3,1121.7L2614.9,1121.0L2617.4,1120.3L2619.8,1119.8L2621.5,1119.7L2623.9,1119.8L2626.4,1120.2L2629.7,1121.0L2632.1,1121.8L2636.2,1123.5L2640.3,1125.5L2643.6,1127.3L2646.9,1129.3L2650.2,1131.5L2652.6,1133.4L2655.1,1135.5L2657.6,1137.8L2660.0,1140.4L2662.5,1143.2L2664.9,1146.3L2667.4,1149.7L2670.7,1154.7L2674.0,1160.3L2677.2,1166.6L2680.5,1173.3L2686.3,1186.1L2697.7,1213.1L2703.5,1226.3L2709.2,1238.7L2715.8,1252.3L2722.3,1265.1L2728.9,1277.2L2735.4,1288.7L2742.8,1301.0L2751.0,1314.0L2758.4,1325.1L2766.6,1337.0L2774.8,1348.5L2789.6,1368.5L2812.5,1399.0L2823.2,1413.3L2833.0,1426.7L2853.5,1455.0L2864.2,1469.2L2869.1,1475.5L2873.2,1480.5L2876.5,1484.4L2881.4,1490.0L2886.3,1495.4L2891.2,1500.5L2895.3,1504.6L2901.1,1510.2L2906.8,1515.6L2915.8,1523.9L2924.8,1532.0L2934.7,1540.6L2944.5,1549.1L2956.0,1558.7L2962.6,1564.1L2969.1,1569.3L2976.5,1574.7L2983.1,1579.1L2988.8,1582.4L2992.1,1584.0L2995.4,1585.5L2998.6,1586.7L3001.9,1587.9L3005.2,1588.8L3010.1,1590.1L3016.7,1591.3L3024.1,1592.1L3030.6,1592.6L3038.0,1592.7L3065.9,1592.3L3076.5,1592.3L3119.2,1592.5L3214.3,1592.4L3246.3,1592.5" stroke="#E0D228" stroke-width="4.4"/>
<path d="M2167.2,1593.8L2353.4,1593.7L2395.2,1593.9L2405.0,1593.7L2409.9,1593.4L2414.9,1592.9L2419.0,1592.4L2423.1,1591.7L2427.2,1590.8L2432.1,1589.5L2436.2,1588.3L2441.1,1586.5L2446.8,1584.3L2450.9,1582.5L2455.9,1580.2L2460.0,1578.1L2464.1,1575.9L2469.0,1573.0L2478.0,1567.4L2483.7,1563.4L2489.5,1559.3L2494.4,1555.5L2500.1,1551.0L2504.2,1547.6L2508.3,1544.1L2512.4,1540.4L2515.7,1537.2L2522.3,1530.3L2525.5,1526.6L2528.8,1522.6L2531.3,1519.3L2534.6,1514.8L2537.8,1509.9L2540.3,1506.0L2546.0,1496.3L2551.8,1485.8L2564.1,1461.9L2570.6,1449.5L2579.7,1433.3L2593.6,1409.1L2599.3,1398.9L2604.3,1389.7L2609.2,1380.0L2613.3,1371.5L2617.4,1362.7L2621.5,1353.5L2625.6,1344.1L2633.0,1326.5L2645.3,1296.2L2651.8,1280.3L2656.7,1268.8L2662.5,1256.0L2669.0,1242.2L2675.6,1229.4L2681.3,1219.1L2684.6,1213.6L2687.9,1208.3L2692.0,1202.1L2695.3,1197.5L2698.6,1193.2L2701.8,1189.2L2705.1,1185.4L2708.4,1182.0L2711.7,1179.0L2714.9,1176.2L2718.2,1173.8L2721.5,1171.6L2724.8,1169.9L2728.1,1168.4L2731.3,1167.3L2734.6,1166.5L2737.9,1166.0L2741.2,1165.9L2744.5,1166.0L2747.7,1166.5L2751.0,1167.2L2754.3,1168.2L2758.4,1170.0L2761.7,1171.6L2765.8,1174.1L2769.1,1176.4L2773.2,1179.7L2776.4,1182.6L2780.5,1186.7L2783.8,1190.3L2787.1,1194.1L2791.2,1199.4L2794.5,1203.9L2797.8,1208.7L2801.0,1213.8L2803.5,1217.9L2806.8,1223.5L2809.2,1228.0L2815.0,1239.0L2821.5,1252.5L2826.5,1263.1L2832.2,1276.0L2852.7,1323.4L2860.1,1340.2L2867.5,1356.3L2874.8,1371.8L2883.0,1388.1L2891.2,1403.6L2898.6,1417.1L2908.5,1434.3L2915.8,1446.7L2922.4,1457.6L2931.4,1472.1L2938.8,1483.7L2944.5,1492.6L2951.1,1502.4L2957.6,1511.9L2964.2,1521.0L2969.9,1528.7L2975.7,1536.1L2982.2,1544.0L2986.3,1548.8L2992.1,1555.1L2997.0,1560.1L3002.7,1565.6L3008.5,1570.7L3015.0,1575.9L3020.8,1580.0L3026.5,1583.5L3029.0,1584.9L3032.3,1586.5L3034.7,1587.6L3037.2,1588.6L3040.5,1589.8L3042.9,1590.5L3045.4,1591.1L3048.7,1591.7L3054.4,1592.4L3059.3,1592.8L3065.1,1592.9L3088.0,1592.6L3130.7,1592.7L3246.3,1592.7" stroke="#FFB957" stroke-width="4.4"/>
<path d="M2398.5,1594.2L2409.9,1593.9L2426.3,1593.6L2441.9,1593.7L2481.3,1594.0L2500.9,1594.0L2517.3,1593.7L2532.9,1593.1L2544.4,1592.4L2559.2,1591.1L2570.6,1589.7L2576.4,1588.8L2584.6,1587.5L2595.2,1585.3L2599.3,1584.3L2605.1,1582.7L2609.2,1581.4L2614.9,1579.4L2619.8,1577.4L2623.9,1575.5L2628.0,1573.5L2632.1,1571.2L2637.1,1568.1L2640.3,1565.9L2644.4,1562.9L2648.5,1559.6L2652.6,1556.0L2655.9,1552.9L2660.0,1548.7L2664.9,1543.4L2669.0,1538.7L2673.1,1533.8L2678.1,1527.6L2683.0,1521.0L2687.1,1515.4L2692.0,1508.4L2696.9,1501.1L2702.7,1492.4L2714.9,1473.0L2727.2,1452.8L2742.0,1427.7L2753.5,1407.7L2761.7,1392.6L2765.8,1384.6L2769.1,1377.9L2775.6,1363.8L2783.0,1346.9L2790.4,1329.3L2806.8,1289.6L2815.8,1268.5L2819.9,1259.3L2823.2,1252.3L2827.3,1243.9L2830.6,1237.7L2834.7,1230.5L2838.8,1224.1L2841.2,1220.7L2842.9,1218.6L2846.1,1214.8L2847.8,1213.2L2850.2,1211.2L2851.9,1210.0L2853.5,1209.0L2855.2,1208.2L2856.8,1207.7L2858.4,1207.3L2860.1,1207.1L2862.5,1207.3L2864.2,1207.7L2865.8,1208.4L2868.3,1209.8L2869.9,1211.1L2871.6,1212.6L2873.2,1214.4L2874.8,1216.5L2877.3,1220.0L2878.9,1222.7L2880.6,1225.8L2883.0,1230.8L2884.7,1234.5L2887.1,1240.6L2891.2,1251.9L2895.3,1264.1L2905.2,1294.8L2910.9,1311.7L2915.8,1325.1L2922.4,1341.9L2928.1,1355.8L2934.7,1371.0L2947.0,1399.1L2956.0,1419.4L2963.4,1435.5L2969.1,1447.7L2974.9,1459.5L2980.6,1470.8L2987.2,1483.0L2991.3,1490.2L2995.4,1497.2L2999.5,1503.8L3003.6,1510.2L3006.8,1515.1L3010.9,1521.0L3015.0,1526.7L3019.1,1532.2L3027.3,1542.5L3032.3,1548.2L3036.4,1552.9L3041.3,1558.1L3044.6,1561.5L3047.8,1564.7L3051.9,1568.4L3058.5,1573.9L3061.8,1576.4L3065.1,1578.8L3068.3,1580.9L3071.6,1582.9L3074.9,1584.6L3078.2,1586.2L3081.5,1587.6L3083.9,1588.5L3087.2,1589.5L3090.5,1590.4L3093.8,1591.1L3097.9,1591.8L3101.1,1592.2L3106.1,1592.7L3110.2,1592.9L3115.1,1593.0L3121.6,1593.0L3131.5,1592.7L3147.9,1592.5L3165.1,1592.5L3197.1,1592.8L3217.6,1592.8L3230.7,1592.6L3246.3,1592.2" stroke="#FF5A1F" stroke-width="4.6"/>
<path d="M2497.3,1594.3L2505.5,1593.8L2512.1,1593.6L2520.3,1593.5L2529.3,1593.6L2559.7,1594.1L2569.5,1594.1L2576.1,1594.0L2581.8,1593.7L2593.3,1592.9L2603.1,1591.6L2608.9,1590.7L2615.4,1589.5L2621.2,1588.3L2626.1,1587.1L2632.6,1585.4L2638.4,1583.7L2645.7,1581.3L2651.5,1579.3L2658.9,1576.5L2665.4,1573.7L2672.0,1570.8L2678.5,1567.7L2685.1,1564.4L2691.7,1560.9L2696.6,1558.1L2704.0,1553.7L2715.4,1546.5L2722.8,1541.5L2730.2,1536.3L2736.8,1531.6L2745.8,1524.8L2754.0,1518.4L2761.4,1512.5L2776.9,1499.6L2793.3,1485.5L2813.8,1467.4L2820.4,1461.4L2825.3,1456.8L2829.4,1452.8L2834.3,1447.7L2839.2,1442.2L2843.3,1437.4L2846.6,1433.4L2849.9,1429.1L2853.2,1424.6L2856.5,1419.9L2859.7,1414.8L2863.0,1409.6L2870.4,1396.9L2877.0,1384.8L2884.3,1370.5L2891.7,1355.7L2906.5,1325.2L2912.2,1313.8L2918.0,1303.1L2921.2,1297.4L2923.7,1293.5L2927.0,1288.6L2930.3,1284.2L2933.5,1280.5L2936.8,1277.3L2938.5,1276.0L2940.1,1274.8L2942.6,1273.5L2944.2,1272.8L2945.8,1272.3L2947.5,1272.0L2949.1,1271.9L2950.8,1272.0L2952.4,1272.3L2954.0,1272.7L2955.7,1273.3L2957.3,1274.1L2959.0,1275.1L2961.4,1276.9L2963.1,1278.3L2966.3,1281.6L2969.6,1285.7L2972.1,1289.1L2973.7,1291.6L2977.0,1297.1L2980.3,1303.1L2983.6,1309.7L2986.8,1316.7L2990.1,1324.2L2996.7,1339.9L3013.9,1383.3L3022.9,1405.3L3027.8,1416.8L3031.9,1426.0L3036.9,1436.6L3041.0,1444.9L3045.9,1454.2L3050.0,1461.5L3054.9,1469.5L3059.8,1476.9L3064.7,1483.7L3070.5,1491.0L3076.2,1497.8L3082.8,1505.1L3087.7,1510.4L3096.7,1519.7L3109.0,1532.0L3119.7,1542.1L3124.6,1546.6L3131.1,1552.3L3140.2,1559.7L3148.4,1565.8L3153.3,1569.1L3158.2,1572.2L3161.5,1574.2L3167.2,1577.4L3173.0,1580.2L3176.2,1581.7L3182.0,1584.1L3186.9,1585.9L3191.8,1587.5L3196.7,1588.9L3201.7,1590.1L3206.6,1591.0L3210.7,1591.7L3215.6,1592.2L3220.5,1592.6L3225.4,1592.7L3230.4,1592.7L3234.5,1592.5L3246.3,1591.4" stroke="#FF2A80" stroke-width="4.7"/>
<path d="M2167.2,1595.2L2642.0,1595.3L2669.0,1595.0L2683.0,1594.6L2696.1,1593.9L2706.8,1593.1L2718.2,1591.9L2728.1,1590.6L2739.5,1588.9L2751.0,1586.7L2760.0,1584.8L2769.1,1582.7L2777.3,1580.6L2784.6,1578.5L2791.2,1576.6L2806.0,1571.8L2817.4,1567.7L2826.5,1564.3L2836.3,1560.5L2849.4,1555.1L2860.9,1550.3L2873.2,1544.9L2880.6,1541.4L2887.1,1538.0L2892.9,1534.9L2898.6,1531.5L2903.5,1528.3L2908.5,1525.0L2912.6,1522.0L2916.7,1518.8L2920.7,1515.5L2924.8,1512.0L2928.9,1508.3L2933.0,1504.4L2938.8,1498.5L2945.3,1491.4L2950.3,1485.8L2970.8,1461.7L2977.3,1454.4L2982.2,1449.1L2989.6,1441.5L2996.2,1435.2L3004.4,1427.9L3010.9,1422.4L3018.3,1416.5L3023.2,1412.9L3026.5,1410.6L3033.1,1406.3L3037.2,1403.9L3040.5,1402.2L3043.7,1400.6L3047.8,1398.8L3050.3,1397.8L3054.4,1396.5L3057.7,1395.6L3061.0,1394.8L3064.2,1394.3L3067.5,1393.9L3072.4,1393.6L3077.4,1393.8L3082.3,1394.3L3085.6,1394.9L3088.0,1395.4L3092.9,1396.9L3097.9,1398.7L3102.8,1400.9L3107.7,1403.7L3112.6,1406.9L3118.4,1411.1L3124.1,1415.9L3129.8,1421.1L3137.2,1428.4L3143.8,1435.5L3150.3,1443.0L3158.5,1453.1L3160.2,1455.0L3162.6,1457.3L3167.5,1461.5L3170.8,1464.1L3176.6,1468.3L3183.1,1472.7L3190.5,1477.2L3196.2,1480.4L3204.4,1484.6L3211.8,1488.2L3219.2,1491.5L3246.3,1502.8" stroke="#CC0048" stroke-width="3.0"/>
</g>
<g class="tick">
<text x="2090.9" y="1099.7" textLength="38.5" lengthAdjust="spacingAndGlyphs">1.0</text><text x="2090.9" y="1149.8" textLength="38.5" lengthAdjust="spacingAndGlyphs">0.9</text><text x="2090.9" y="1199.9" textLength="38.5" lengthAdjust="spacingAndGlyphs">0.8</text><text x="2090.9" y="1250" textLength="38.5" lengthAdjust="spacingAndGlyphs">0.7</text><text x="2090.9" y="1300.1" textLength="38.5" lengthAdjust="spacingAndGlyphs">0.6</text><text x="2090.9" y="1350.2" textLength="38.5" lengthAdjust="spacingAndGlyphs">0.5</text><text x="2090.9" y="1400.3" textLength="38.5" lengthAdjust="spacingAndGlyphs">0.4</text><text x="2090.9" y="1450.4" textLength="38.5" lengthAdjust="spacingAndGlyphs">0.3</text><text x="2090.9" y="1500.5" textLength="38.5" lengthAdjust="spacingAndGlyphs">0.2</text><text x="2090.9" y="1550.6" textLength="38.5" lengthAdjust="spacingAndGlyphs">0.1</text><text x="2090.9" y="1600.7" textLength="38.5" lengthAdjust="spacingAndGlyphs">0.0</text>
<text x="2169.7" y="1632.8" text-anchor="middle" textLength="46.3" lengthAdjust="spacingAndGlyphs">350</text><text x="2252.6" y="1632.8" text-anchor="middle" textLength="46.3" lengthAdjust="spacingAndGlyphs">400</text><text x="2335.5" y="1632.8" text-anchor="middle" textLength="46.3" lengthAdjust="spacingAndGlyphs">450</text><text x="2418.4" y="1632.8" text-anchor="middle" textLength="46.3" lengthAdjust="spacingAndGlyphs">500</text><text x="2501.3" y="1632.8" text-anchor="middle" textLength="46.3" lengthAdjust="spacingAndGlyphs">550</text><text x="2584.2" y="1632.8" text-anchor="middle" textLength="46.3" lengthAdjust="spacingAndGlyphs">600</text><text x="2667.1" y="1632.8" text-anchor="middle" textLength="46.3" lengthAdjust="spacingAndGlyphs">650</text><text x="2750" y="1632.8" text-anchor="middle" textLength="46.3" lengthAdjust="spacingAndGlyphs">700</text><text x="2832.9" y="1632.8" text-anchor="middle" textLength="46.3" lengthAdjust="spacingAndGlyphs">750</text><text x="2915.8" y="1632.8" text-anchor="middle" textLength="46.3" lengthAdjust="spacingAndGlyphs">800</text><text x="2998.7" y="1632.8" text-anchor="middle" textLength="46.3" lengthAdjust="spacingAndGlyphs">850</text><text x="3081.6" y="1632.8" text-anchor="middle" textLength="46.3" lengthAdjust="spacingAndGlyphs">900</text><text x="3164.5" y="1632.8" text-anchor="middle" textLength="46.3" lengthAdjust="spacingAndGlyphs">950</text><text x="3247.4" y="1632.8" text-anchor="middle" textLength="59.5" lengthAdjust="spacingAndGlyphs">1000</text>
</g>
<text class="ttl" x="2608.4" y="1696">波长（nm）</text>
<text class="ttl" text-anchor="middle" transform="translate(2038.4,1340.6) rotate(-90)">量子效率</text>
</g>
</svg>
</body>
</html>
